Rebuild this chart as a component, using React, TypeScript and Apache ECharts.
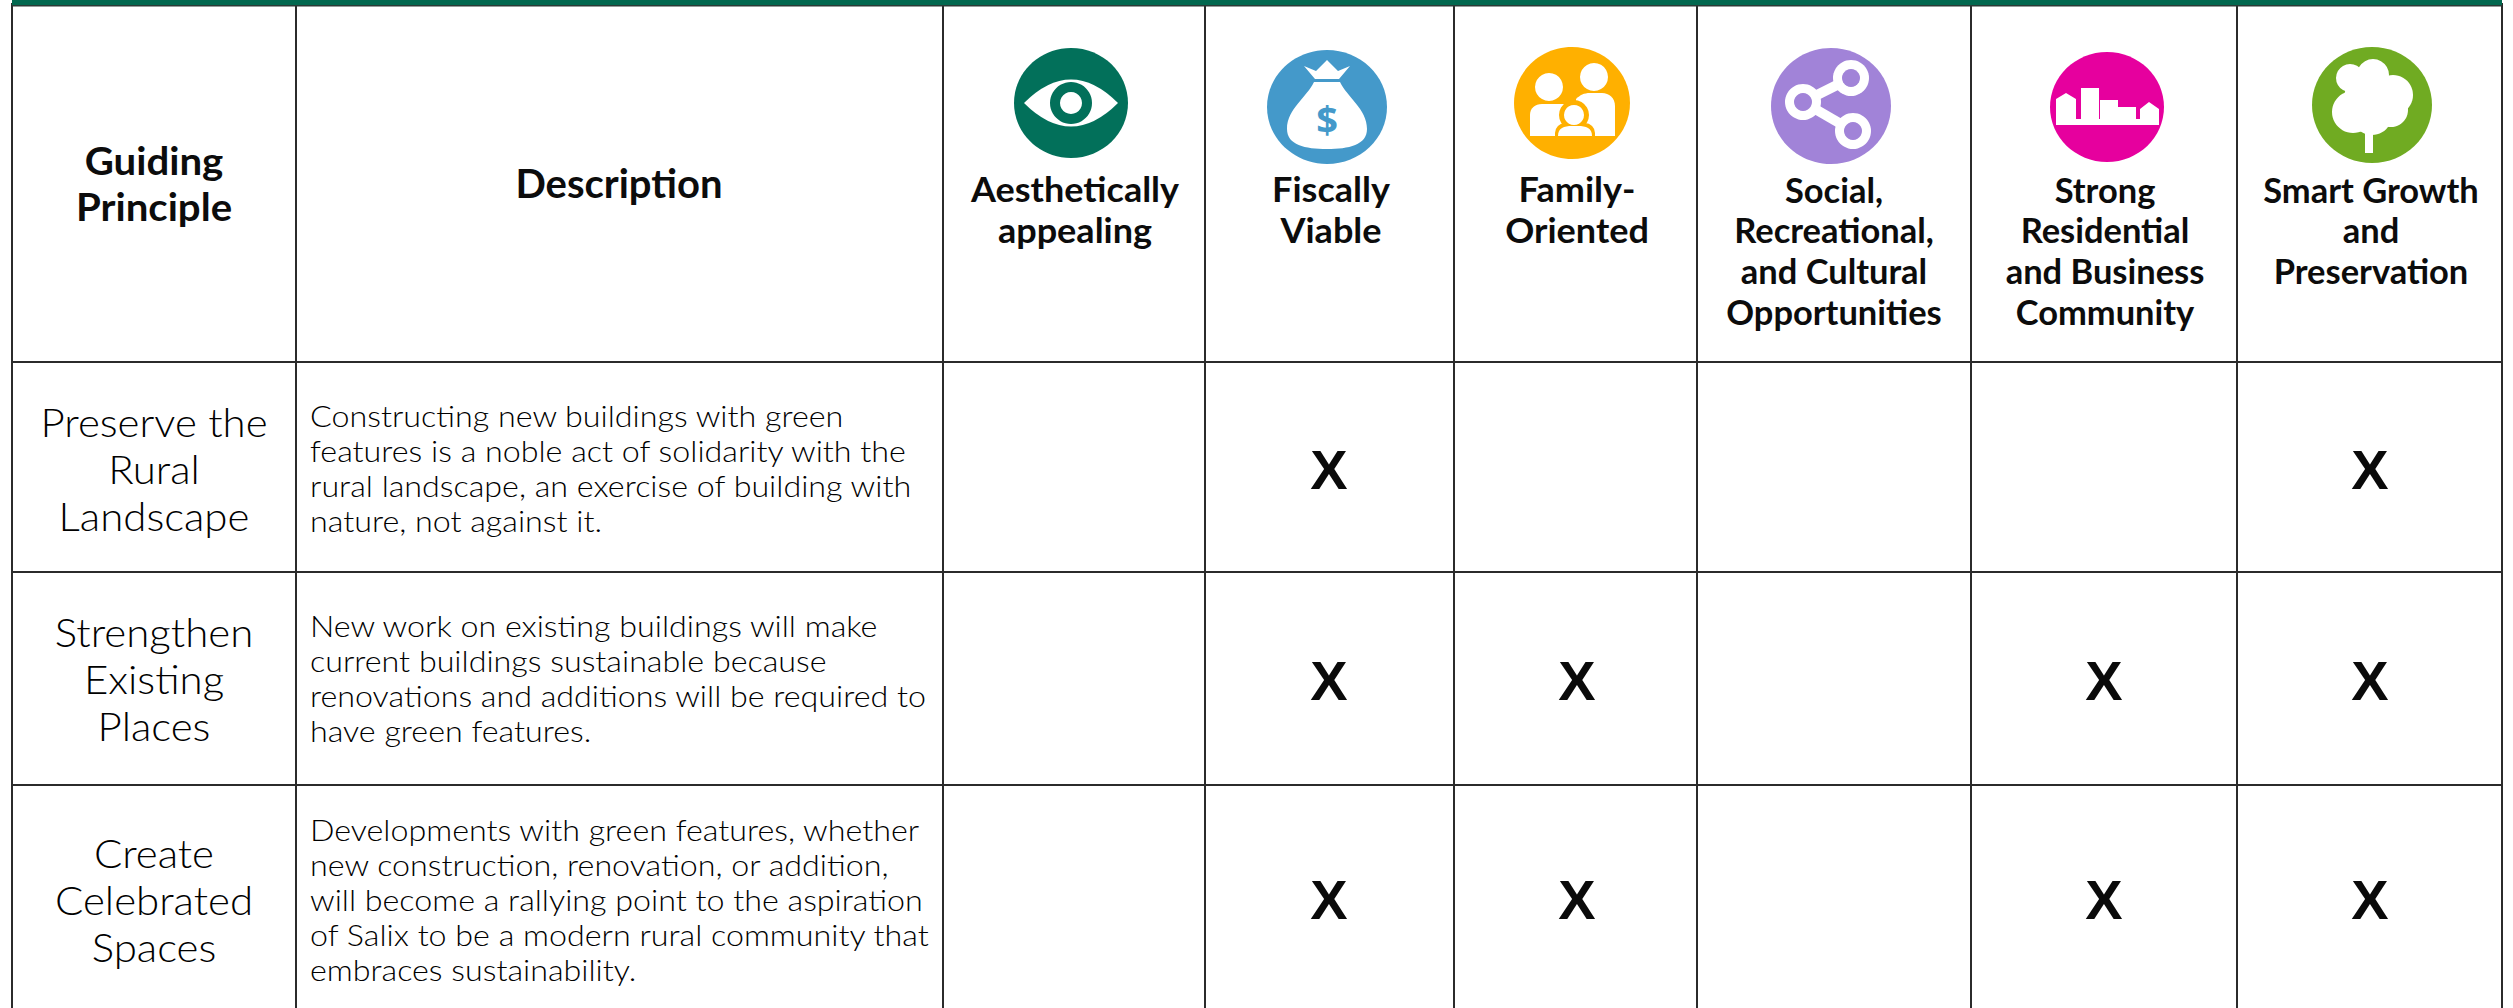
import React, { useEffect, useRef } from "react";
import * as echarts from "echarts";

// ---------- data ----------
const headerPrinciple = ["Guiding", "Principle"];
const headerDescription = ["Description"];
const criteria = [
  ["Aesthetically", "appealing"],
  ["Fiscally", "Viable"],
  ["Family-", "Oriented"],
  ["Social,", "Recreational,", "and Cultural", "Opportunities"],
  ["Strong", "Residential", "and Business", "Community"],
  ["Smart Growth", "and", "Preservation"],
];
const principles = [
  ["Preserve the", "Rural", "Landscape"],
  ["Strengthen", "Existing", "Places"],
  ["Create", "Celebrated", "Spaces"],
];
const descriptions = [
  [
    "Constructing new buildings with green",
    "features is a noble act of solidarity with the",
    "rural landscape, an exercise of building with",
    "nature, not against it.",
  ],
  [
    "New work on existing buildings will make",
    "current buildings sustainable because",
    "renovations and additions will be required to",
    "have green features.",
  ],
  [
    "Developments with green features, whether",
    "new construction, renovation, or addition,",
    "will become a rallying point to the aspiration",
    "of Salix to be a modern rural community that",
    "embraces sustainability.",
  ],
];
const marks = [
  [0, 1, 0, 0, 0, 1],
  [0, 1, 1, 0, 1, 1],
  [0, 1, 1, 0, 1, 1],
];

// ---------- layout ----------
const W = 2513;
const H = 1008;
const colEdges = [12, 296, 943, 1205, 1454, 1697, 1971, 2237, 2502];
const rowEdges = [362, 572, 785];
const critCenters = [1075, 1331, 1577, 1834, 2105, 2371];
const critScale = [1.03, 1.03, 1.03, 0.985, 0.985, 0.985];
const markCenters = [1075, 1329, 1577, 1834, 2104, 2370];
const rowCenters = [469, 680, 899];
const principleCenters = [469, 679, 900];
const descFirstY = [415, 625, 829];
const BODY = "Lato";

type T = { x: number; y: number; s: string; font: string; align: string; fill: string; sx: number };
const texts: T[] = [];
const add = (lines: string[], x: number, y0: number, dy: number, font: string, sx = 1, align = "center", fill = "#0c0c0c") =>
  lines.forEach((s, i) => texts.push({ x, y: y0 + i * dy, s, font, align, fill, sx }));

add(headerPrinciple, 154, 160, 46, `bold 39px ${BODY}`, 1.03);
add(headerDescription, 619, 183, 0, `bold 40px ${BODY}`, 1.0);
criteria.forEach((c, i) => add(c, critCenters[i], 189, 40.8, `bold 35px ${BODY}`, critScale[i]));
principles.forEach((p, i) => add(p, 154, principleCenters[i] - 47, 46.7, `300 40px ${BODY}`, 1.05, "center", "#000000"));
descriptions.forEach((d, i) => add(d, 310, descFirstY[i], 35.2, `300 30px ${BODY}`, 1.075, "left", "#000000"));
marks.forEach((row, r) =>
  row.forEach((m, c) => {
    if (m) texts.push({ x: markCenters[c], y: rowCenters[r], s: "X", font: "bold 56px 'Liberation Sans'", align: "center", fill: "#0a0a0a", sx: 1 });
  })
);

// ---------- icons ----------
echarts.graphic.registerShape("almond", echarts.graphic.extendPath("M-47,0 Q0,-47 47,0 Q0,47 -47,0 Z", {}));
echarts.graphic.registerShape(
  "bag",
  echarts.graphic.extendPath("M-13,-25 L13,-25 C20,-10 40,2 40,22 C40,38 22,42 0,42 C-22,42 -40,38 -40,22 C-40,2 -20,-10 -13,-25 Z", {})
);
echarts.graphic.registerShape(
  "bodyL",
  echarts.graphic.extendPath("M-42,33 L-42,12 C-42,5 -37,1 -30,1 L-6,1 L-6,33 Z", {})
);
echarts.graphic.registerShape(
  "bodyR",
  echarts.graphic.extendPath("M4,33 L4,-4 C8,-8 12,-10 18,-10 L30,-10 C37,-10 43,-5 43,3 L43,33 Z", {})
);
echarts.graphic.registerShape(
  "kidBody",
  echarts.graphic.extendPath("M-14,33 C-14,25 -8,23 0,23 L6,23 C14,23 20,25 20,33 Z", {})
);

const white = { fill: "#ffffff" };
const circle = (cx: number, cy: number, r: number, fill = "#ffffff") => ({ type: "circle", shape: { cx, cy, r }, style: { fill } });
const bgEllipse = (rx: number, ry: number, fill: string) => ({ type: "ellipse", shape: { cx: 0, cy: 0, rx, ry }, style: { fill } });
const poly = (points: number[][], fill = "#ffffff") => ({ type: "polygon", shape: { points }, style: { fill } });
const seg = (x1: number, y1: number, x2: number, y2: number, lineWidth: number, stroke = "#ffffff") => ({
  type: "line",
  shape: { x1, y1, x2, y2 },
  style: { stroke, lineWidth },
});

const GREEN = "#02705a";
const BLUE = "#4499ca";
const ORANGE = "#ffb000";
const PURPLE = "#a183d8";
const MAGENTA = "#e6009e";
const LEAF = "#70ab22";

const icons = [
  {
    type: "group", x: 1071, y: 103,
    children: [
      bgEllipse(57, 55, GREEN),
      { type: "almond", style: white },
      circle(0, 0, 21, GREEN),
      circle(0, 0, 11),
    ],
  },
  {
    type: "group", x: 1327, y: 107,
    children: [
      bgEllipse(60, 57, BLUE),
      { type: "bag", style: white },
      poly([[-12, -28], [12, -28], [23, -41], [11, -36], [0, -47], [-11, -36], [-23, -41]]),
      { type: "text", style: { x: 0, y: 12, text: "$", font: "bold 38px 'Open Sans'", fill: BLUE, align: "center", verticalAlign: "middle" } },
    ],
  },
  {
    type: "group", x: 1572, y: 103,
    children: [
      bgEllipse(58, 56, ORANGE),
      { type: "bodyR", style: white },
      { type: "bodyL", style: white },
      circle(22, -26, 14),
      circle(-23, -16, 14),
      circle(2, 12, 15, ORANGE),
      { type: "rect", shape: { x: -17, y: 20, width: 40, height: 13, r: [10, 10, 0, 0] }, style: { fill: ORANGE } },
      circle(2, 12, 10),
      { type: "kidBody", style: white },
    ],
  },
  {
    type: "group", x: 1831, y: 106,
    children: [
      bgEllipse(60, 58, PURPLE),
      seg(-28, -4, 20, -28, 10),
      seg(-28, -4, 22, 25, 10),
      circle(20, -28, 18), circle(20, -28, 9, PURPLE),
      circle(-28, -4, 18), circle(-28, -4, 9, PURPLE),
      circle(22, 25, 18), circle(22, 25, 9, PURPLE),
    ],
  },
  {
    type: "group", x: 2107, y: 107,
    children: [
      bgEllipse(57, 55, MAGENTA),
      poly([[-51, 18], [-51, -8], [-41, -14], [-31, -8], [-31, 12], [-26, 12], [-26, -19], [-8, -19], [-8, 12], [-7, 12], [-7, -7], [11, -7], [11, 0], [29, 0], [29, 12], [33, 12], [33, 2], [42, -5], [52, 2], [52, 18]]),
    ],
  },
  {
    type: "group", x: 2372, y: 105,
    children: [
      bgEllipse(60, 58, LEAF),
      circle(-22, -27, 14), circle(1, -30, 16), circle(21, -10, 20), circle(-19, 7, 21), circle(0, 10, 20), circle(19, 5, 17), circle(0, -6, 28),
      { type: "rect", shape: { x: -7, y: 20, width: 8, height: 28 }, style: white },
    ],
  },
];

const lineList: number[][] = [
  ...colEdges.map((x) => [x, 3, x, H]),
  ...rowEdges.map((y) => [colEdges[0], y, colEdges[colEdges.length - 1], y]),
];

export default function App() {
  const ref = useRef<HTMLDivElement>(null);
  useEffect(() => {
    const chart = echarts.init(ref.current!, undefined, { renderer: "svg" });
    chart.setOption({
      animation: false,
      backgroundColor: "#ffffff",
      grid: { left: 0, right: 0, top: 0, bottom: 0 },
      xAxis: { type: "value", min: 0, max: W, show: false },
      yAxis: { type: "value", min: 0, max: H, inverse: true, show: false },
      graphic: icons,
      series: [
        {
          type: "custom",
          coordinateSystem: "cartesian2d",
          silent: true,
          data: lineList,
          renderItem: (_: any, api: any) => {
            const a = api.coord([api.value(0), api.value(1)]);
            const b = api.coord([api.value(2), api.value(3)]);
            return { type: "line", shape: { x1: a[0], y1: a[1], x2: b[0], y2: b[1] }, style: { stroke: "#2b2b2b", lineWidth: 2 } };
          },
        },
        {
          type: "custom",
          coordinateSystem: "cartesian2d",
          silent: true,
          data: [[colEdges[0], 0, colEdges[colEdges.length - 1], 6, 0], [colEdges[0], 5, colEdges[colEdges.length - 1], 6.5, 1]],
          renderItem: (_: any, api: any) => {
            const a = api.coord([api.value(0), api.value(1)]);
            const b = api.coord([api.value(2), api.value(3)]);
            return { type: "rect", shape: { x: a[0], y: a[1], width: b[0] - a[0], height: b[1] - a[1] }, style: { fill: api.value(4) ? "#2b3a36" : "#02684f" } };
          },
        },
        {
          type: "custom",
          coordinateSystem: "cartesian2d",
          silent: true,
          data: texts.map((t, i) => [t.x, t.y, i]),
          renderItem: (_: any, api: any) => {
            const p = api.coord([api.value(0), api.value(1)]);
            const t = texts[api.value(2)];
            return {
              type: "text",
              x: p[0],
              y: p[1],
              scaleX: t.sx,
              style: { legacy: false, x: 0, y: 0, text: t.s, font: t.font, fill: t.fill, align: t.align, verticalAlign: "middle" },
            };
          },
        },
      ],
    });
    return () => chart.dispose();
  }, []);
  return <div ref={ref} style={{ position: "absolute", left: 0, top: 0, width: W, height: H }} />;
}
